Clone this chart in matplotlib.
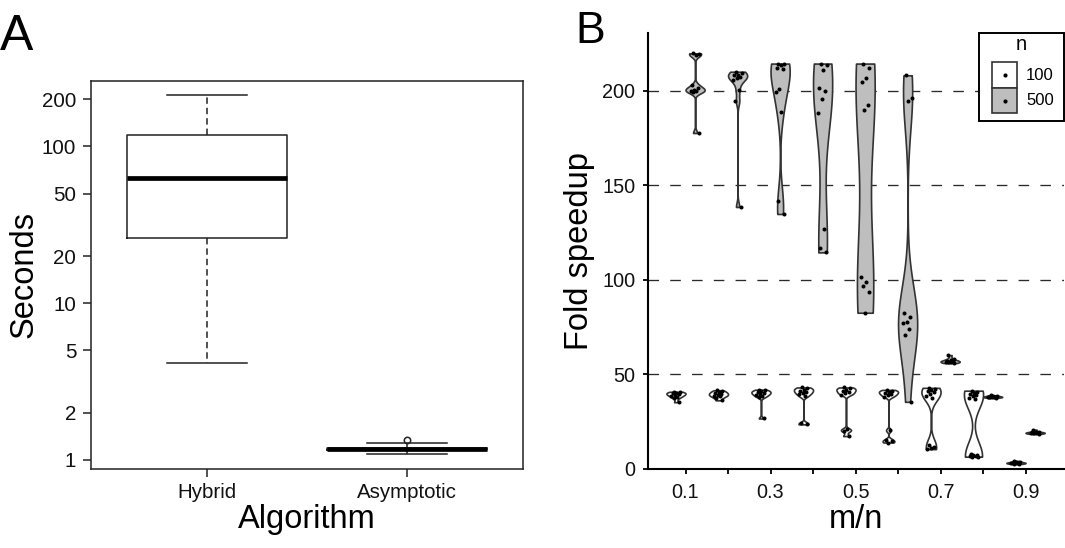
import numpy as np
import matplotlib
matplotlib.use("Agg")
import matplotlib.pyplot as plt
from matplotlib.patches import Rectangle
from matplotlib.lines import Line2D
from matplotlib.ticker import NullLocator

plt.rcParams['font.family'] = ['Liberation Sans', 'DejaVu Sans']

# ---------------- Panel A data (box statistics, seconds) ----------------
alg_names = ["Hybrid", "Asymptotic"]
box_whislo = [4.14, 1.087]
box_q1 = [25.9, 1.165]
box_med = [62.5, 1.176]
box_q3 = [118.1, 1.19]
box_whishi = [211.8, 1.278]
box_fliers = [[], [1.342]]
seconds_ticks = [1, 2, 5, 10, 20, 50, 100, 200]

# ---------------- Panel B data (fold speedup) ----------------
ratios = [0.1, 0.2, 0.3, 0.4, 0.5, 0.6, 0.7, 0.8, 0.9]
ratio_labels = ["0.1", "", "0.3", "", "0.5", "", "0.7", "", "0.9"]
speed_ticks = [0, 50, 100, 150, 200]
legend_levels = ["100", "500"]

speed_n100 = [
    [40.8, 40.5, 40.2, 40.0, 39.6, 39.2, 38.8, 38.3, 37.5, 35.3],
    [41.6, 41.0, 40.5, 40.0, 39.6, 39.2, 38.8, 38.4, 37.6, 36.3],
    [41.9, 41.5, 41.0, 40.6, 40.2, 39.8, 39.3, 38.7, 38.0, 26.7],
    [43.1, 42.6, 42.0, 41.4, 40.8, 40.2, 39.4, 38.4, 24.1, 23.6],
    [43.1, 42.6, 42.0, 41.4, 40.7, 40.0, 39.2, 20.9, 20.2, 17.4],
    [41.8, 41.3, 40.8, 40.3, 39.7, 39.0, 38.2, 20.5, 15.5, 14.6, 14.0],
    [42.9, 42.4, 41.8, 41.2, 40.5, 39.8, 38.5, 37.4, 12.8, 11.8, 11.2, 10.5],
    [41.4, 40.9, 40.4, 39.8, 39.2, 38.5, 37.6, 36.8,
     7.9, 7.5, 7.2, 7.0, 6.8, 6.6, 6.5],
    [4.3, 3.9, 3.6, 3.4, 3.3, 3.2, 3.1, 3.0, 2.9, 2.7],
]
speed_n500 = [
    [219.7, 219.3, 219.0, 203.0, 201.5, 200.5, 200.0, 199.8, 199.5, 177.6],
    [210.0, 209.5, 208.5, 208.0, 207.0, 206.5, 205.5, 200.5, 194.5, 138.5],
    [214.3, 214.0, 213.5, 212.0, 211.5, 200.7, 199.5, 188.5, 141.4, 134.8],
    [214.3, 213.8, 211.0, 201.5, 200.0, 195.5, 188.0, 127.0, 117.0, 114.5],
    [214.3, 212.2, 206.9, 204.6, 192.4, 189.7, 101.7, 99.1, 96.8, 93.8, 82.6],
    [208.1, 195.9, 194.5, 82.3, 80.5, 77.7, 77.4, 74.0, 71.0, 35.5],
    [60.2, 58.4, 57.5, 57.2, 57.0, 56.8, 56.6, 56.5, 56.3, 56.0],
    [38.9, 38.6, 38.5, 38.3, 38.2, 38.1, 38.0, 37.9, 37.8, 37.6],
    [20.8, 19.8, 19.5, 19.3, 19.2, 19.1, 19.0, 18.9, 18.8, 18.6],
]

# kernel bandwidths (data units) used to shape each violin
bw_n100 = [0.8, 0.8, 0.8, 0.9, 0.9, 0.9, 4.0, 7.0, 0.35]
bw_n500 = [1.5, 2.5, 10, 24, 36, 19, 0.7, 0.3, 0.4]

# ---------------- figure ----------------
W, H = 1065, 548
fig = plt.figure(figsize=(W / 100, H / 100), dpi=100)


def fx(px):
    return px / W


def fy(py):
    return 1 - py / H


EDGE = "#222222"

# ================= Panel A =================
axA = fig.add_axes([fx(91), fy(469), (522.7 - 91) / W, (469 - 81) / H])
stats = []
for i, name in enumerate(alg_names):
    stats.append(dict(label=name, med=box_med[i], q1=box_q1[i], q3=box_q3[i],
                      whislo=box_whislo[i], whishi=box_whishi[i],
                      fliers=box_fliers[i]))
axA.bxp(stats, positions=[1, 2], widths=0.8, capwidths=0.4,
        boxprops=dict(color=EDGE, lw=1.1),
        medianprops=dict(color="black", lw=3.4, solid_capstyle="butt"),
        whiskerprops=dict(color=EDGE, lw=1.1, linestyle=(0, (4.2, 2.6))),
        capprops=dict(color=EDGE, lw=1.1),
        flierprops=dict(marker="o", mfc="none", mec=EDGE, ms=4.6, mew=1.1))
axA.set_yscale("log")
axA.set_ylim(0.875, 261.8)
axA.set_xlim(0.42, 2.58)
axA.set_yticks(seconds_ticks)
axA.set_yticklabels([str(t) for t in seconds_ticks])
axA.yaxis.set_minor_locator(NullLocator())
axA.set_xticks([1, 2])
axA.set_xticklabels(alg_names)
axA.tick_params(axis="both", direction="out", length=5.8, width=1.1,
                color=EDGE, labelsize=14.8, labelcolor="#111111")
axA.tick_params(axis="y", pad=4.8)
axA.tick_params(axis="x", pad=4.5)
for s in axA.spines.values():
    s.set_linewidth(1.1)
    s.set_color(EDGE)
axA.set_xlabel("Algorithm", fontsize=23.5, labelpad=1)
axA.set_ylabel("Seconds", fontsize=23.5, labelpad=2)

# ================= Panel B =================
axB = fig.add_axes([fx(647.5), fy(469), (1063.6 - 647.5) / W, (469 - 33.3) / H])
axB.set_xlim(0.0105, 0.9895)
axB.set_ylim(0, 230.3)

for v in speed_ticks[1:]:
    axB.axhline(v, color="#2a2a2a", lw=0.95, linestyle=(0, (8.0, 8.5)), zorder=0.5)

dodge = 0.0225
vwidth = 0.045


def bw_rule(bw):
    return lambda kde: bw / np.std(kde.dataset, ddof=1)


def jitter(n):
    return ((np.arange(n) * 0.618034 + 0.31) % 1 - 0.5) * 0.022


for level, (groups, bws, fill, sign) in enumerate(
        [(speed_n100, bw_n100, "white", -1), (speed_n500, bw_n500, "#BEBEBE", 1)]):
    for r, vals, bw in zip(ratios, groups, bws):
        pos = r + sign * dodge
        parts = axB.violinplot([vals], positions=[pos], widths=vwidth,
                               showextrema=False, points=300,
                               bw_method=bw_rule(bw))
        for body in parts["bodies"]:
            body.set_facecolor(fill)
            body.set_edgecolor("#333333")
            body.set_linewidth(1.2)
            body.set_alpha(1)
            body.set_zorder(2)
        arr = np.asarray(vals)
        axB.plot(pos + jitter(len(arr)), arr, "o", color="black", ms=2.9,
                 mew=0, zorder=3)

axB.set_xticks(ratios)
axB.set_xticklabels(ratio_labels)
axB.set_yticks(speed_ticks)
axB.spines["top"].set_visible(False)
axB.spines["right"].set_visible(False)
for s in ("left", "bottom"):
    axB.spines[s].set_linewidth(1.5)
    axB.spines[s].set_color("black")
axB.tick_params(axis="both", direction="out", length=3.4, width=1.3,
                color="black", labelsize=14.3, labelcolor="#111111")
axB.tick_params(axis="x", pad=6.5)
axB.tick_params(axis="y", pad=5.3)
axB.set_xlabel("m/n", fontsize=23.5, labelpad=1.5)
axB.set_ylabel("Fold speedup", fontsize=23.5, labelpad=5)

# legend (n)
fig.add_artist(Rectangle((fx(979), fy(120.7)), (1064 - 979) / W, (120.7 - 33.3) / H,
                         transform=fig.transFigure, facecolor="white",
                         edgecolor="black", lw=1.4, zorder=5))
key_fills = ["white", "#BEBEBE"]
key_tops = [61.7, 88.3]
key_h = [26.6, 25.0]
for lab, fill, top, hh in zip(legend_levels, key_fills, key_tops, key_h):
    fig.add_artist(Rectangle((fx(992.3), fy(top + hh)), 25 / W, hh / H,
                             transform=fig.transFigure, facecolor=fill,
                             edgecolor="#333333", lw=1.2, zorder=6))
    fig.add_artist(Line2D([fx(1004.8)], [fy(top + hh / 2)], marker="o",
                          ms=3.0, mew=0, color="black",
                          transform=fig.transFigure, zorder=7))
    fig.text(fx(1026), fy(top + hh / 2), lab, fontsize=12, va="center",
             ha="left", zorder=7)
fig.text(fx(1021.7), fy(45), "n", fontsize=14.5, va="center", ha="center", zorder=7)

# panel letters
fig.text(fx(0), fy(50), "A", fontsize=36, va="baseline", ha="left")
fig.text(fx(575), fy(42.7), "B", fontsize=32, va="baseline", ha="left")

fig.savefig("out.png", dpi=100)
